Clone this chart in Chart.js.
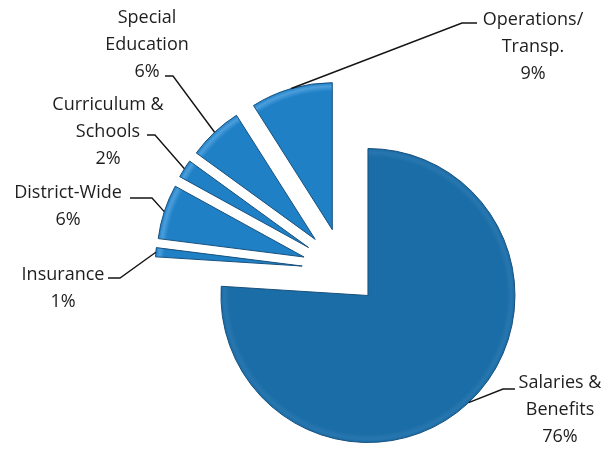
<!DOCTYPE html>
<html>
<head>
<meta charset="utf-8">
<script src="https://cdn.jsdelivr.net/npm/chart.js@4.4.0/dist/chart.umd.min.js"></script>
<style>
  html, body { margin: 0; padding: 0; background: #fff; }
  .layer { position: absolute; left: 0; top: 0; width: 611px; height: 449px; }
</style>
</head>
<body>
<div id="stage"></div>
<script>
// budget categories, clockwise from 12 o'clock
const categories = [
  ["Salaries &", "Benefits"],
  ["Insurance"],
  ["District-Wide"],
  ["Curriculum &", "Schools"],
  ["Special", "Education"],
  ["Operations/", "Transp."]
];
const shares = [76, 1, 6, 2, 6, 9];

// exploded pie: each slice pulled out from the common centre (px)
const pullOut = [35, 42, 42, 42, 42, 42];
const pieCentre = [344, 270];
const pieRadius = 147;
const W = 611, H = 449;

const sliceColors = ["#1a6da6", "#1f80c6", "#1f80c6", "#1f80c6", "#1f80c6", "#1f80c6"];
const rimColors = ["#2876b0", "#4b9edb", "#4b9edb", "#4b9edb", "#4b9edb", "#4b9edb"];

// where the call-out text sits
const labelSpots = [
  { elbow: [503, 389], end: [515, 389], tx: 560, ty: 383 },
  { elbow: [120, 278], end: [108, 278], tx: 63, ty: 275 },
  { elbow: [152, 198], end: [130, 198], tx: 68, ty: 193 },
  { elbow: [155, 135], end: [147, 135], tx: 108, ty: 105 },
  { elbow: [173, 76], end: [165, 76], tx: 147, ty: 18 },
  { elbow: [462, 23], end: [477, 23], tx: 533, ty: 20 }
];

const total = shares.reduce(function (a, b) { return a + b; }, 0);

// centre of the pie for one pulled-out slice
function sliceCentre(i) {
  let before = 0;
  for (let k = 0; k < i; k++) before += shares[k];
  const mid = (before + shares[i] / 2) / total * 2 * Math.PI;
  return [pieCentre[0] + pullOut[i] * Math.sin(mid), pieCentre[1] - pullOut[i] * Math.cos(mid)];
}

function calloutPlugin(idx) {
  return {
    id: "callout" + idx,
    afterDatasetsDraw(chart) {
      const ctx = chart.ctx;
      const arc = chart.getDatasetMeta(0).data[idx];
      const p = arc.getProps(["x", "y", "startAngle", "endAngle", "outerRadius"], true);
      const mid = (p.startAngle + p.endAngle) / 2;
      const ax = p.x + Math.cos(mid) * p.outerRadius;
      const ay = p.y + Math.sin(mid) * p.outerRadius;
      const s = labelSpots[idx];
      ctx.save();
      ctx.strokeStyle = "#141414";
      ctx.lineWidth = 1.4;
      ctx.beginPath();
      ctx.moveTo(ax, ay);
      ctx.lineTo(s.elbow[0], s.elbow[1]);
      ctx.lineTo(s.end[0], s.end[1]);
      ctx.stroke();

      const lines = categories[idx].concat([shares[idx] + "%"]);
      ctx.fillStyle = "#1e1e1e";
      ctx.font = "18px 'Open Sans'";
      ctx.textAlign = "center";
      ctx.textBaseline = "middle";
      lines.forEach(function (t, k) {
        ctx.fillText(t, s.tx, s.ty + k * 27);
      });
      ctx.restore();
    }
  };
}

// one layer per slice, so every slice keeps the same radius
const stage = document.getElementById("stage");
shares.forEach(function (v, i) {
  const box = document.createElement("div");
  box.className = "layer";
  const cv = document.createElement("canvas");
  box.appendChild(cv);
  stage.appendChild(box);

  const c = sliceCentre(i);
  const px = 2 * c[0] - W;
  const py = 2 * c[1] - H;

  // soft bevel along the rim
  function fill(context) {
    if (context.dataIndex !== i) return "rgba(0,0,0,0)";
    const g = context.chart.ctx.createRadialGradient(c[0], c[1], 0, c[0], c[1], pieRadius);
    g.addColorStop(0, sliceColors[i]);
    g.addColorStop(0.94, sliceColors[i]);
    g.addColorStop(0.975, rimColors[i]);
    g.addColorStop(1, sliceColors[i]);
    return g;
  }

  new Chart(cv, {
    type: "pie",
    data: {
      labels: categories,
      datasets: [{
        data: shares,
        radius: pieRadius,
        clip: false,
        backgroundColor: fill,
        borderColor: shares.map(function (_, k) { return k === i ? "#17507d" : "rgba(0,0,0,0)"; }),
        borderWidth: 1
      }]
    },
    options: {
      responsive: true,
      maintainAspectRatio: false,
      animation: false,
      events: [],
      layout: {
        padding: {
          left: Math.max(px, 0), right: Math.max(-px, 0),
          top: Math.max(py, 0), bottom: Math.max(-py, 0)
        }
      },
      plugins: {
        legend: { display: false },
        tooltip: { enabled: false }
      }
    },
    plugins: [calloutPlugin(i)]
  });
});
</script>
</body>
</html>
